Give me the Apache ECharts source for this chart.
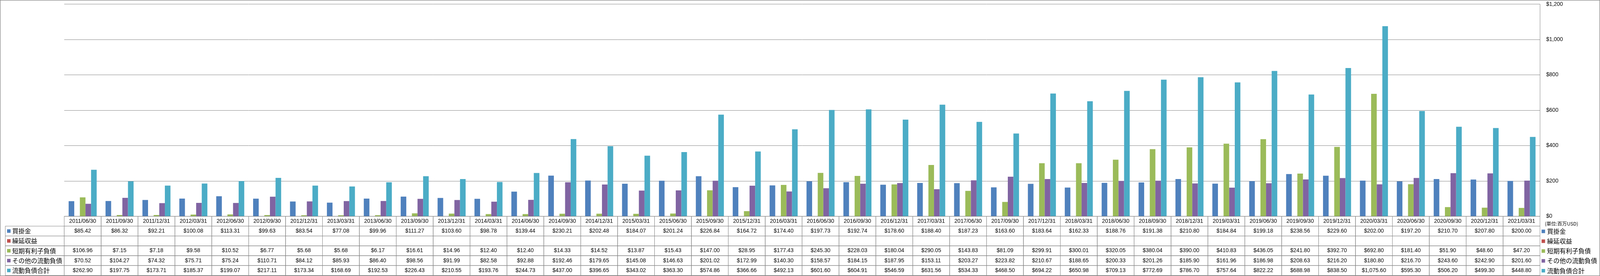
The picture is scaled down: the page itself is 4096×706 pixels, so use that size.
<!DOCTYPE html>
<html>
<head>
<meta charset="utf-8">
<script src="https://cdn.jsdelivr.net/npm/echarts@6/dist/echarts.min.js"></script>
<style>html,body{margin:0;padding:0;background:#fff;}#c{width:4096px;height:706px;}</style>
</head>
<body>
<div id="c"></div>
<script>
const categories = ['2011/06/30','2011/09/30','2011/12/31','2012/03/31','2012/06/30','2012/09/30','2012/12/31','2013/03/31','2013/06/30','2013/09/30','2013/12/31','2014/03/31','2014/06/30','2014/09/30','2014/12/31','2015/03/31','2015/06/30','2015/09/30','2015/12/31','2016/03/31','2016/06/30','2016/09/30','2016/12/31','2017/03/31','2017/06/30','2017/09/30','2017/12/31','2018/03/31','2018/06/30','2018/09/30','2018/12/31','2019/03/31','2019/06/30','2019/09/30','2019/12/31','2020/03/31','2020/06/30','2020/09/30','2020/12/31','2021/03/31'];
const seriesNames = ['買掛金','繰延収益','短期有利子負債','その他の流動負債','流動負債合計'];
const colors = ['#4F81BD','#C0504D','#9BBB59','#8064A2','#4BACC6'];
const accountsPayable = [85.42,86.32,92.21,100.08,113.31,99.63,83.54,77.08,99.96,111.27,103.60,98.78,139.44,230.21,202.48,184.07,201.24,226.84,164.72,174.40,197.73,192.74,178.60,188.40,187.23,163.60,183.64,162.33,188.76,191.38,210.80,184.84,199.18,238.56,229.60,202.00,197.20,210.70,207.80,200.00];
const deferredRevenue = [];
const shortTermDebt = [106.96,7.15,7.18,9.58,10.52,6.77,5.68,5.68,6.17,16.61,14.96,12.40,12.40,14.33,14.52,13.87,15.43,147.00,28.95,177.43,245.30,228.03,180.04,290.05,143.83,81.09,299.91,300.01,320.05,380.04,390.00,410.83,436.05,241.80,392.70,692.80,181.40,51.90,48.60,47.20];
const otherCurrent = [70.52,104.27,74.32,75.71,75.24,110.71,84.12,85.93,86.40,98.56,91.99,82.58,92.88,192.46,179.65,145.08,146.63,201.02,172.99,140.30,158.57,184.15,187.95,153.11,203.27,223.82,210.67,188.65,200.33,201.26,185.90,161.96,186.98,208.63,216.20,180.80,216.70,243.60,242.90,201.60];
const totalCurrent = [262.90,197.75,173.71,185.37,199.07,217.11,173.34,168.69,192.53,226.43,210.55,193.76,244.73,437.00,396.65,343.02,363.30,574.86,366.66,492.13,601.60,604.91,546.59,631.56,534.33,468.50,694.22,650.98,709.13,772.69,786.70,757.64,822.22,688.98,838.50,1075.60,595.30,506.20,499.30,448.80];
const yTicks = {min: 0, max: 1200, interval: 200};
const unitLabel = '(単位:百万USD)';

const seriesData = [accountsPayable, deferredRevenue, shortTermDebt, otherCurrent, totalCurrent];

const S = 0.822;
const W = 4096, H = 706;
const GRID_LEFT = 200 * S;
const GRID_RIGHT = (4981 - 4794) * S;
const GRID_TOP = 13 * S;
const ZERO_Y = 673 * S;
const TABLE_BOTTOM = 857 * S;
const ROWHEAD_LEFT = 16.5 * S;
const LINE = '#868686';
const NUM_FONT = 'Liberation Sans, Arial, sans-serif';
const CJK_FONT = '"Noto Sans CJK JP", sans-serif';
const NUM_SIZE = 14;
const CJK_SIZE = 16;

function fmt(v) {
  if (v === undefined || v === null) return '';
  return '$' + v.toLocaleString('en-US', {minimumFractionDigits: 2, maximumFractionDigits: 2});
}

const cells = [];
for (let r = 0; r < 6; r++) {
  for (let c = 0; c < categories.length; c++) cells.push([c, r, 0]);
}
for (let r = 1; r < 6; r++) cells.push([0, r, 1]);

const chart = echarts.init(document.getElementById('c'), null, {renderer: 'canvas', width: W, height: H});

const barSeries = seriesNames.map((n, i) => ({
  name: n,
  type: 'bar',
  xAxisIndex: 0,
  yAxisIndex: 0,
  data: seriesData[i],
  barGap: '0%',
  barCategoryGap: '24%',
  itemStyle: {color: colors[i]},
  emphasis: {disabled: true},
  z: 2
}));

const tableSeries = {
  type: 'custom',
  xAxisIndex: 1,
  yAxisIndex: 1,
  silent: true,
  clip: false,
  encode: {x: 0, y: 1},
  data: cells,
  z: 3,
  renderItem: function (params, api) {
    const item = cells[params.dataIndex];
    const c = item[0], r = item[1], kind = item[2];
    const pt = api.coord([c, r]);
    const sz = api.size([1, 1]);
    const h = sz[1];
    const y0 = pt[1] - h / 2;
    if (kind === 1) {
      const x0 = ROWHEAD_LEFT;
      const x1 = params.coordSys.x;
      return {
        type: 'group',
        children: [
          {type: 'rect', shape: {x: x0, y: y0, width: x1 - x0, height: h}, style: {fill: null, stroke: LINE, lineWidth: 1}},
          {type: 'rect', shape: {x: 22 * S, y: pt[1] - 4.5, width: 9, height: 9}, style: {fill: colors[r - 1]}},
          {type: 'text', style: {text: seriesNames[r - 1], x: 38 * S, y: pt[1], align: 'left', verticalAlign: 'middle', fontFamily: CJK_FONT, fontSize: CJK_SIZE, fill: '#000'}}
        ]
      };
    }
    const w = sz[0];
    const x0 = pt[0] - w / 2;
    const text = r === 0 ? categories[c] : fmt(seriesData[r - 1][c]);
    return {
      type: 'group',
      children: [
        {type: 'rect', shape: {x: x0, y: y0, width: w, height: h}, style: {fill: null, stroke: LINE, lineWidth: 1}},
        {type: 'text', style: {text: text, x: pt[0], y: pt[1], align: 'center', verticalAlign: 'middle', fontFamily: NUM_FONT, fontSize: NUM_SIZE, fill: '#000'}}
      ]
    };
  }
};

const option = {
  animation: false,
  backgroundColor: '#fff',
  textStyle: {fontFamily: NUM_FONT},
  grid: [
    {left: GRID_LEFT, right: GRID_RIGHT, top: GRID_TOP, bottom: H - ZERO_Y, containLabel: false},
    {left: GRID_LEFT, right: GRID_RIGHT, top: ZERO_Y, bottom: H - TABLE_BOTTOM, containLabel: false}
  ],
  xAxis: [
    {type: 'category', gridIndex: 0, data: categories, axisLabel: {show: false}, axisTick: {show: false},
     axisLine: {show: true, lineStyle: {color: LINE, width: 1}}},
    {type: 'category', gridIndex: 1, data: categories, show: false}
  ],
  yAxis: [
    {type: 'value', gridIndex: 0, position: 'right', min: yTicks.min, max: yTicks.max, interval: yTicks.interval,
     axisLine: {show: true, lineStyle: {color: LINE, width: 1}}, axisTick: {show: false},
     splitLine: {show: true, lineStyle: {color: LINE, width: 1}},
     axisLabel: {margin: 16, color: '#000', fontFamily: NUM_FONT, fontSize: NUM_SIZE,
       formatter: v => '$' + v.toLocaleString('en-US')}},
    {type: 'category', gridIndex: 1, data: [0, 1, 2, 3, 4, 5], inverse: true, show: false}
  ],
  legend: {
    orient: 'vertical',
    left: 4801 * S,
    top: 720 * S - 8,
    padding: 0,
    itemWidth: 9,
    itemHeight: 9,
    itemGap: 30.6 * S - 16,
    icon: 'rect',
    data: seriesNames,
    textStyle: {fontFamily: CJK_FONT, fontSize: CJK_SIZE, lineHeight: 16, color: '#000'}
  },
  graphic: [
    {type: 'rect', shape: {x: 0.5, y: 0.5, width: W - 1, height: H - 1}, style: {fill: null, stroke: LINE, lineWidth: 1.5}, silent: true, z: 10},
    {type: 'text', left: 4811 * S, top: 697 * S - 7, style: {text: unitLabel, fontFamily: CJK_FONT, fontSize: 12.3, fill: '#000'}, silent: true}
  ],
  series: barSeries.concat([tableSeries])
};
chart.setOption(option);
</script>
</body>
</html>
